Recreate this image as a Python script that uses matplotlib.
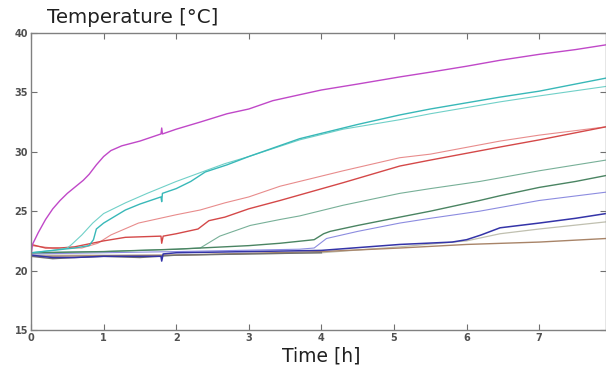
import numpy as np
import matplotlib
matplotlib.use("Agg")
from matplotlib.pyplot import *

# values (time in h, temperature in degC)
t_mag = [0, 0.005, 0.02, 0.1, 0.2, 0.3, 0.4, 0.5, 0.6, 0.72, 0.8, 0.9, 1.0, 1.1, 1.25, 1.5,
         1.79, 1.8, 1.81, 2.0, 2.33, 2.7, 3.0, 3.33, 3.7, 4.0, 4.5, 5.08, 5.5, 6.0, 6.46, 7.0, 7.5, 7.92]
T_mag = [18.5, 21.5, 22.2, 23.2, 24.3, 25.2, 25.9, 26.5, 27.0, 27.6, 28.1, 28.9, 29.6, 30.1, 30.5, 30.9,
         31.5, 32.0, 31.5, 31.9, 32.5, 33.2, 33.6, 34.3, 34.8, 35.2, 35.7, 36.3, 36.7, 37.2, 37.7, 38.2, 38.6, 39.0]

t_cyn = [0, 0.3, 0.6, 0.8, 0.86, 0.9, 1.0, 1.3, 1.5, 1.79, 1.8, 1.81, 2.0, 2.2, 2.4, 2.7, 3.0,
         3.7, 4.5, 5.08, 5.5, 6.46, 7.0, 7.5, 7.92]
T_cyn = [21.5, 21.7, 21.9, 22.1, 22.6, 23.5, 24.0, 25.1, 25.6, 26.2, 25.8, 26.5, 26.9, 27.5, 28.3, 28.9, 29.6,
         31.1, 32.3, 33.1, 33.6, 34.6, 35.1, 35.7, 36.2]

t_cys = [0, 0.3, 0.5, 0.56, 0.7, 0.85, 1.0, 1.3, 1.6, 2.0, 2.4, 2.67, 3.0, 3.7, 4.3, 5.08, 5.5, 6.46, 7.0, 7.92]
T_cys = [21.5, 21.7, 21.9, 22.2, 23.0, 24.0, 24.8, 25.7, 26.5, 27.5, 28.4, 29.0, 29.6, 31.0, 31.9, 32.7, 33.2, 34.2, 34.7, 35.5]

t_rds = [0, 0.3, 0.7, 0.92, 1.1, 1.48, 2.0, 2.33, 2.67, 3.0, 3.43, 4.3, 5.08, 5.5, 6.46, 7.0, 7.92]
T_rds = [22.1, 21.9, 21.9, 22.3, 23.0, 24.0, 24.7, 25.1, 25.7, 26.2, 27.1, 28.4, 29.5, 29.8, 30.9, 31.4, 32.1]

t_rdn = [0, 0.2, 0.4, 0.6, 1.0, 1.3, 1.79, 1.8, 1.82, 2.0, 2.3, 2.45, 2.67, 3.0, 3.43, 4.3, 5.08, 5.5, 6.46, 7.0, 7.92]
T_rdn = [22.2, 21.9, 21.9, 22.0, 22.5, 22.8, 22.9, 22.3, 22.9, 23.1, 23.5, 24.2, 24.5, 25.2, 25.9, 27.4, 28.8, 29.3, 30.4, 31.0, 32.1]

t_grs = [0, 1.0, 2.0, 2.33, 2.6, 3.02, 3.43, 3.7, 4.3, 5.08, 5.5, 6.18, 7.0, 7.92]
T_grs = [21.5, 21.6, 21.8, 21.9, 22.9, 23.8, 24.3, 24.6, 25.5, 26.5, 26.9, 27.5, 28.4, 29.3]

t_grn = [0, 1.0, 2.0, 3.0, 3.43, 3.9, 4.03, 4.12, 4.5, 5.08, 5.5, 6.18, 6.46, 7.0, 7.5, 7.92]
T_grn = [21.5, 21.6, 21.8, 22.1, 22.3, 22.6, 23.1, 23.3, 23.8, 24.5, 25.0, 25.9, 26.3, 27.0, 27.5, 28.0]

t_pur = [0, 2.0, 3.7, 3.9, 4.07, 4.5, 5.08, 5.5, 6.18, 7.0, 7.92]
T_pur = [21.4, 21.6, 21.8, 21.9, 22.7, 23.3, 24.0, 24.4, 25.0, 25.9, 26.6]

t_blu = [0, 0.3, 0.6, 1.0, 1.5, 1.79, 1.8, 1.82, 2.0, 3.0, 4.0, 5.08, 5.8, 6.0, 6.2, 6.46, 7.0, 7.5, 7.92]
T_blu = [21.3, 21.1, 21.1, 21.2, 21.2, 21.2, 20.8, 21.4, 21.5, 21.6, 21.7, 22.2, 22.4, 22.6, 23.0, 23.6, 24.0, 24.4, 24.8]

t_gry = [0, 2.0, 4.0, 5.08, 6.0, 6.46, 7.0, 7.92]
T_gry = [21.3, 21.3, 21.5, 22.0, 22.5, 23.1, 23.5, 24.1]

t_brn = [0, 2.0, 4.0, 5.08, 6.0, 7.0, 7.92]
T_brn = [21.2, 21.3, 21.6, 21.9, 22.2, 22.4, 22.7]

t_blk = [0, 0.3, 0.6, 1.0, 1.5, 2.0, 3.0, 4.0]
T_blk = [21.2, 21.0, 21.1, 21.2, 21.1, 21.3, 21.4, 21.5]

series = [
    (t_gry, T_gry, '#c0c0b0', 0.9),
    (t_brn, T_brn, '#a88468', 1.0),
    (t_blk, T_blk, '#707070', 1.0),
    (t_pur, T_pur, '#8c8ce0', 0.8),
    (t_blu, T_blu, '#3434a8', 1.1),
    (t_grs, T_grs, '#78b098', 0.8),
    (t_grn, T_grn, '#4a8462', 1.0),
    (t_rds, T_rds, '#e88c8c', 0.8),
    (t_rdn, T_rdn, '#d44848', 1.0),
    (t_cys, T_cys, '#70d0c8', 0.8),
    (t_cyn, T_cyn, '#38b8b8', 1.0),
    (t_mag, T_mag, '#c048c8', 1.0),
]

rc('font', family='DejaVu Sans')

fig = figure(figsize=(6.06, 3.69), dpi=100)
ax = fig.add_axes([0.0512, 0.1057, 0.9488, 0.805])

for t, T, col, lw in series:
    ax.plot(t, T, color=col, linewidth=lw)

ax.set_xlim(0, 7.92)
ax.set_ylim(15, 40)
ax.set_xticks(range(0, 8))
ax.set_yticks(range(15, 41, 5))
ax.tick_params(direction='in', top=True, right=True, length=4, width=0.8,
               color='#707070', labelsize=7, labelcolor='#505050', pad=2)
for lab in ax.get_xticklabels() + ax.get_yticklabels():
    lab.set_fontweight('bold')
for sp in ax.spines.values():
    sp.set_color('#808080')
    sp.set_linewidth(1.0)

fig.text(0.077, 0.938, 'Temperature [°C]', fontsize=14.3, color='#202020')
fig.text(0.53, 0.02, 'Time [h]', fontsize=13.5, color='#202020', ha='center')

savefig('out.png', dpi=100)
